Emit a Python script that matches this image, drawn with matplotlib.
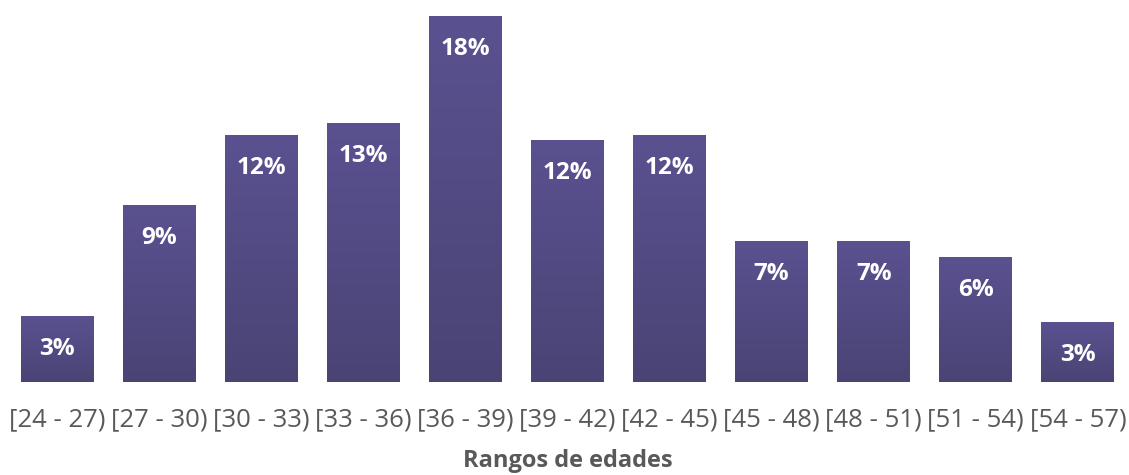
import numpy as np
import matplotlib.pyplot as plt
from matplotlib.colors import LinearSegmentedColormap

rangos = ['[24 - 27)', '[27 - 30)', '[30 - 33)', '[33 - 36)', '[36 - 39)', '[39 - 42)',
          '[42 - 45)', '[45 - 48)', '[48 - 51)', '[51 - 54)', '[54 - 57)']
porcentajes = [3.2, 8.7, 12.1, 12.7, 18.0, 11.9, 12.1, 6.9, 6.9, 6.1, 2.95]
etiquetas = ['3%', '9%', '12%', '13%', '18%', '12%', '12%', '7%', '7%', '6%', '3%']

gris = '#595959'
cmap = LinearSegmentedColormap.from_list('morado', ['#4a4475', '#5a5190'])

plt.rcParams['font.family'] = ['Open Sans', 'DejaVu Sans']

fig = plt.figure(figsize=(11.29, 4.75), dpi=100)
ax = fig.add_axes([6 / 1129, 1 - 382 / 475, 1123 / 1129, 366 / 475])

x = np.arange(len(rangos))
ancho = 0.715
barras = ax.bar(x, porcentajes, width=ancho, color='#524a82', zorder=1)

# degradado vertical dentro de cada barra
grad = np.linspace(0, 1, 256).reshape(-1, 1)
for b in barras:
    x0 = b.get_x()
    h = b.get_height()
    ax.imshow(grad, cmap=cmap, origin='lower', aspect='auto',
              extent=(x0, x0 + b.get_width(), 0, h), zorder=2)

for xi, v, t in zip(x, porcentajes, etiquetas):
    ax.text(xi, v - 1.6, t, ha='center', va='center', color='white',
            fontsize=17.5, fontweight='bold', zorder=3)

ax.set_xlim(-0.5, len(rangos) - 0.5)
ax.set_ylim(0, 18)
ax.set_xticks(x)
ax.set_xticklabels(rangos, fontsize=18.5, color=gris)
ax.tick_params(axis='x', length=0, pad=18)
ax.set_yticks([])
for s in ax.spines.values():
    s.set_visible(False)

ax.set_xlabel('Rangos de edades', fontsize=17, fontweight='bold', color=gris, labelpad=12.5)

fig.savefig('out.png', dpi=100)
